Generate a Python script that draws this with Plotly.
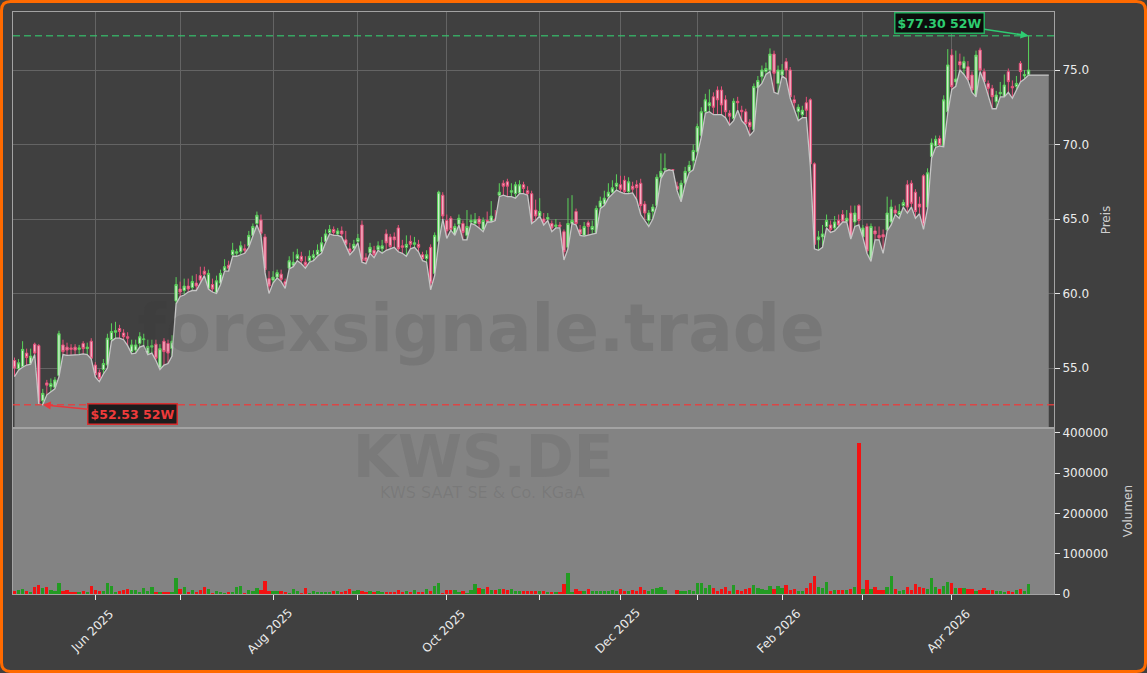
import pandas as pd
import plotly.graph_objects as go
from plotly.subplots import make_subplots

# ---------------- data ----------------
holidays = ["2025-12-24", "2025-12-25", "2025-12-26", "2025-12-31",
            "2026-01-01", "2026-04-03", "2026-04-06"]
_days = pd.bdate_range("2025-05-05", "2026-04-30")
_days = _days[~_days.isin(pd.to_datetime(holidays))]
dates = [d.strftime("%Y-%m-%d") for d in _days]
pad_dates = [d.strftime("%Y-%m-%d") for d in pd.bdate_range("2026-05-04", periods=5)]

opens = [
    55.5, 54.95, 55.1, 56.0, 55.3, 56.6, 56.5, 52.8, 54.0, 53.75,
    53.7, 54.5, 56.55, 56.4, 56.35, 56.4, 56.25, 56.65, 56.3, 56.8,
    55.2, 54.7, 54.9, 55.2, 56.9, 57.4, 57.65, 57.35, 57.1, 56.1,
    56.2, 56.65, 56.9, 55.98, 56.4, 56.6, 55.0, 56.8, 56.65, 56.3,
    59.5, 60.3, 60.2, 60.5, 60.4, 60.7, 61.2, 61.5, 60.35, 60.6,
    60.05, 60.7, 61.55, 61.9, 62.6, 62.7, 62.8, 63.0, 63.2, 63.9,
    64.7, 64.93, 63.8, 61.0, 60.9, 61.1, 61.3, 60.8, 61.7, 61.9,
    62.35, 62.5, 62.1, 62.2, 62.4, 62.6, 62.8, 63.5, 64.1, 64.3,
    64.0, 64.2, 63.6, 63.0, 63.0, 63.5, 64.6, 62.4, 62.75, 62.9,
    62.95, 63.0, 64.0, 63.8, 63.8, 64.4, 63.2, 63.1, 63.5, 63.3,
    63.3, 62.6, 62.35, 63.1, 61.35, 63.5, 66.6, 64.9, 65.05, 63.95,
    64.65, 64.7, 63.9, 64.8, 64.7, 65.0, 64.3, 64.9, 64.85, 65.0,
    66.6, 67.4, 67.5, 66.8, 66.7, 66.75, 67.3, 66.9, 66.7, 65.6,
    65.2, 65.0, 65.0, 64.7, 64.5, 64.6, 64.15, 63.1, 64.7, 65.5,
    64.3, 63.9, 64.75, 64.3, 64.1, 65.8, 66.0, 66.5, 66.8, 67.2,
    67.3, 67.6, 66.85, 67.2, 67.3, 67.4, 66.0, 64.9, 65.5, 65.9,
    67.8, 68.3, 68.3, 68.3, 67.2, 66.2, 67.4, 68.2, 68.9, 69.5,
    70.6, 72.2, 72.6, 73.2, 73.65, 73.65, 73.0, 72.1, 71.75, 72.9,
    72.3, 72.2, 71.5, 71.0, 73.8, 74.55, 74.9, 75.0, 76.07, 74.1,
    74.66, 75.56, 75.0, 73.0, 72.2, 72.0, 72.8, 73.0, 68.7, 63.6,
    63.8, 64.5, 64.6, 64.4, 64.9, 65.3, 64.85, 65.4, 64.8, 65.9,
    63.8, 64.5, 62.3, 64.2, 63.9, 63.95, 64.26, 64.8, 65.6, 65.3,
    65.9, 67.3, 67.4, 66.8, 66.0, 67.9, 65.8, 69.2, 69.9, 70.4,
    69.9, 72.2, 76.0, 74.2, 75.56, 75.11, 75.22, 74.66, 73.21, 76.34,
    74.89, 74.1, 73.77, 72.87, 73.4, 73.21, 74.89, 73.9, 73.9, 75.45,
    74.6, 74.7,
]

highs = [
    55.7, 55.6, 56.8, 56.3, 56.3, 56.7, 56.6, 53.6, 54.2, 54.3,
    54.4, 57.5, 56.9, 56.7, 56.6, 56.6, 56.55, 56.8, 56.7, 57.0,
    55.4, 54.9, 55.6, 57.3, 58.0, 58.1, 57.9, 57.6, 57.4, 56.9,
    56.9, 57.4, 57.3, 56.9, 56.9, 56.9, 56.6, 57.0, 56.9, 57.2,
    61.1, 60.8, 61.0, 61.0, 61.2, 61.3, 61.8, 61.8, 61.6, 61.0,
    61.2, 61.6, 62.3, 62.2, 63.4, 63.0, 63.5, 63.3, 64.2, 64.7,
    65.5, 65.3, 64.0, 61.5, 61.5, 61.6, 61.6, 61.0, 62.5, 62.8,
    63.0, 62.8, 62.5, 62.9, 62.9, 63.3, 63.8, 64.3, 64.6, 64.5,
    64.4, 64.5, 64.2, 63.4, 63.6, 64.0, 64.9, 62.7, 63.4, 63.2,
    63.5, 63.6, 64.3, 64.0, 64.1, 64.6, 63.6, 63.9, 63.9, 63.8,
    63.6, 62.8, 62.9, 63.3, 64.1, 66.9, 66.8, 65.3, 65.2, 64.7,
    65.3, 64.9, 65.6, 65.3, 65.4, 65.2, 65.1, 65.5, 66.2, 65.6,
    67.4, 67.6, 67.7, 67.4, 67.5, 67.6, 67.5, 67.2, 66.9, 66.3,
    66.4, 65.4, 65.4, 64.9, 65.0, 64.8, 64.3, 66.4, 66.6, 65.7,
    64.6, 64.8, 64.9, 64.9, 65.9, 66.5, 66.9, 67.4, 67.6, 68.0,
    67.9, 67.9, 67.8, 67.5, 67.6, 67.7, 66.2, 65.6, 66.0, 68.0,
    69.4, 69.4, 68.35, 68.35, 67.5, 67.6, 68.5, 68.9, 70.0, 71.4,
    72.5, 73.4, 73.7, 73.5, 73.9, 73.9, 73.3, 72.3, 73.1, 73.2,
    72.6, 72.4, 71.7, 74.1, 74.6, 75.3, 75.5, 76.45, 76.3, 75.3,
    75.4, 75.8, 75.2, 73.3, 72.7, 72.6, 73.2, 73.1, 68.8, 64.2,
    64.6, 65.3, 64.9, 65.2, 65.3, 65.6, 65.6, 65.9, 65.9, 66.0,
    64.6, 64.7, 64.7, 64.5, 64.5, 64.3, 66.5, 66.3, 65.9, 66.0,
    66.3, 67.6, 67.6, 67.0, 66.5, 68.0, 68.4, 70.4, 70.6, 70.6,
    73.3, 76.4, 76.4, 76.3, 76.1, 75.9, 75.6, 74.9, 76.3, 76.5,
    75.1, 74.3, 74.0, 73.6, 74.2, 74.7, 75.1, 74.3, 74.6, 75.6,
    75.0, 77.3,
]

lows = [
    54.42, 54.85, 55.05, 55.2, 55.25, 55.9, 52.6, 52.53, 53.2, 53.4,
    53.6, 54.4, 55.9, 55.85, 55.85, 55.85, 55.9, 55.95, 55.9, 55.6,
    54.4, 54.08, 54.6, 55.0, 56.8, 57.0, 57.0, 56.9, 56.5, 55.95,
    56.0, 56.4, 56.5, 55.9, 56.0, 55.5, 54.9, 55.2, 55.3, 55.8,
    59.3, 59.8, 59.9, 60.1, 60.2, 60.2, 60.7, 61.2, 60.3, 60.1,
    60.0, 60.6, 61.5, 61.5, 62.5, 62.5, 62.6, 62.7, 63.1, 63.8,
    64.6, 63.9, 61.4, 60.0, 60.7, 61.05, 60.8, 60.35, 61.65, 61.8,
    62.2, 62.0, 61.7, 62.1, 62.2, 62.5, 62.7, 63.4, 64.0, 63.9,
    63.9, 63.8, 63.15, 62.6, 62.9, 63.4, 62.1, 62.0, 62.7, 62.4,
    62.9, 62.7, 62.9, 63.0, 63.1, 62.8, 62.7, 62.5, 63.0, 63.1,
    62.8, 62.2, 62.1, 60.25, 61.2, 63.4, 65.0, 63.7, 64.25, 63.9,
    64.6, 63.6, 63.6, 64.7, 64.6, 64.4, 64.15, 64.8, 64.8, 64.9,
    66.5, 66.6, 66.5, 66.5, 66.4, 66.7, 66.7, 66.6, 64.7, 64.9,
    65.2, 64.6, 64.9, 64.15, 64.4, 64.4, 62.25, 63.0, 64.7, 64.6,
    63.9, 63.85, 63.9, 64.0, 64.05, 65.7, 65.9, 66.4, 66.7, 66.95,
    66.8, 66.7, 66.7, 66.75, 66.3, 65.3, 64.9, 64.5, 65.0, 65.9,
    67.7, 68.2, 68.3, 68.25, 66.9, 66.15, 67.3, 68.1, 68.3, 69.3,
    70.5, 72.1, 72.2, 72.0, 72.0, 72.0, 71.8, 71.3, 71.6, 72.3,
    71.6, 71.3, 70.6, 70.9, 73.8, 74.1, 74.7, 74.9, 73.5, 73.4,
    74.6, 74.4, 73.1, 72.3, 71.6, 71.8, 71.8, 68.5, 63.0, 62.9,
    63.1, 64.4, 64.1, 64.2, 64.5, 64.8, 64.8, 63.65, 64.5, 64.6,
    63.75, 62.7, 62.15, 63.6, 63.6, 62.7, 64.2, 64.6, 65.3, 65.05,
    65.8, 65.4, 65.8, 65.05, 65.35, 64.3, 65.7, 69.1, 69.8, 69.9,
    69.85, 72.1, 73.7, 73.9, 75.0, 74.7, 74.3, 73.5, 73.2, 74.9,
    74.2, 73.3, 72.4, 72.4, 73.2, 73.2, 73.5, 73.1, 73.6, 74.2,
    74.4, 74.66,
]

closes = [
    55.0, 55.35, 56.25, 55.7, 55.8, 56.0, 52.7, 53.3, 53.85, 53.95,
    54.2, 57.3, 56.1, 56.2, 56.25, 56.2, 56.35, 56.3, 56.4, 55.65,
    54.55, 54.3, 55.3, 57.0, 57.45, 57.5, 57.45, 57.1, 57.0, 56.55,
    56.55, 57.1, 56.95, 56.45, 56.5, 55.65, 56.3, 56.1, 56.0, 56.8,
    60.6, 60.1, 60.5, 60.3, 60.8, 60.5, 60.9, 61.3, 61.35, 60.3,
    60.85, 61.35, 61.8, 61.7, 62.9, 62.8, 63.2, 62.9, 63.9, 64.5,
    65.25, 64.04, 61.6, 60.5, 61.1, 61.4, 60.95, 60.55, 62.2, 62.1,
    62.6, 62.2, 61.9, 62.5, 62.6, 62.9, 63.4, 64.0, 64.3, 64.1,
    64.2, 64.0, 63.3, 62.8, 63.3, 63.7, 62.2, 62.2, 63.1, 62.6,
    63.2, 63.2, 63.4, 63.15, 63.6, 63.0, 63.1, 63.3, 63.3, 63.4,
    63.1, 62.35, 62.6, 60.7, 63.9, 66.8, 65.2, 64.2, 64.3, 64.5,
    65.05, 64.1, 64.5, 64.9, 64.95, 64.7, 64.9, 64.85, 65.2, 64.95,
    66.8, 67.2, 67.2, 66.9, 67.3, 67.3, 67.05, 66.7, 64.8, 65.2,
    65.5, 64.8, 65.1, 64.4, 64.6, 64.5, 62.8, 64.7, 64.9, 64.7,
    64.0, 64.5, 64.5, 64.5, 65.7, 66.2, 66.4, 66.8, 67.1, 67.4,
    67.0, 66.85, 67.5, 67.0, 67.1, 65.9, 65.4, 65.4, 65.8, 67.8,
    68.2, 68.4, 68.3, 68.3, 67.0, 67.4, 68.2, 68.6, 69.6, 71.2,
    72.2, 73.0, 72.8, 72.5, 73.0, 72.65, 72.2, 71.9, 72.9, 72.8,
    72.2, 71.4, 71.2, 73.9, 74.3, 75.0, 75.1, 76.07, 74.78, 75.0,
    75.0, 75.0, 73.2, 72.8, 72.5, 72.3, 72.3, 68.7, 63.3, 63.8,
    64.0, 64.9, 64.3, 64.8, 64.6, 64.85, 65.05, 63.7, 65.4, 64.9,
    64.4, 62.85, 64.5, 64.0, 63.75, 63.8, 65.4, 65.8, 65.4, 65.5,
    66.1, 65.8, 66.05, 65.5, 65.8, 64.6, 68.1, 70.1, 70.35, 70.0,
    73.0, 75.34, 73.88, 74.4, 75.34, 75.56, 74.33, 73.66, 76.0, 75.0,
    74.22, 73.77, 73.21, 73.32, 73.5, 73.99, 74.22, 73.8, 74.1, 74.89,
    74.7, 75.0,
]

volumes = [
    8000, 10000, 11500, 7000, 6000, 18000, 22000, 16000, 17000, 10000,
    8000, 27000, 8000, 10000, 6000, 5000, 6000, 8000, 5000, 20000,
    10000, 8000, 8000, 28000, 21000, 3000, 8000, 11000, 12000, 10000,
    10000, 4000, 15000, 7000, 16500, 5000, 5000, 5000, 5000, 5000,
    40000, 12000, 17000, 5000, 9000, 6000, 9000, 17000, 12000, 2000,
    7000, 6000, 2000, 6000, 6000, 18000, 20000, 2000, 10000, 8000,
    15000, 10000, 32000, 8000, 8000, 8000, 8000, 6000, 2000, 12000,
    8000, 2000, 15000, 2000, 7000, 5000, 5000, 5000, 6000, 7000,
    7000, 5000, 7000, 12000, 8000, 9000, 8000, 6000, 7000, 5000,
    8000, 5000, 5000, 5000, 5000, 10000, 5000, 8000, 4000, 10000,
    3000, 6000, 12000, 8000, 20000, 28000, 2000, 10000, 10000, 10000,
    3000, 8000, 2000, 10000, 26000, 14000, 12000, 17000, 10000, 10000,
    12000, 12000, 10000, 12000, 8000, 8000, 7000, 8000, 8000, 8000,
    8000, 7000, 3000, 5000, 3000, 3000, 25000, 52000, 3000, 12000,
    8000, 7000, 11600, 8000, 8000, 8000, 7000, 8000, 10000, 8000,
    11600, 8000, 8000, 10000, 7000, 18000, 10000, 8000, 12000, 14000,
    18000, 10000, 0, 0, 10000, 8000, 8000, 9000, 8000, 27000,
    27000, 16000, 22000, 14000, 7000, 12000, 17000, 8000, 22000, 11000,
    8000, 12000, 14000, 22000, 14000, 12000, 10000, 20000, 13000, 21000,
    16000, 22000, 10000, 12000, 7000, 7000, 14000, 26500, 45000, 18000,
    14000, 29000, 8000, 10000, 10000, 10000, 10000, 12000, 16500, 376000,
    12000, 35000, 12000, 18000, 10000, 10000, 18000, 45000, 12000, 8000,
    10000, 16500, 10000, 24000, 16500, 14000, 12000, 41000, 18000, 13000,
    21000, 31000, 26500, 14000, 14000, 14000, 13000, 12000, 7000, 10000,
    16000, 10000, 10000, 7000, 7000, 6000, 7000, 6000, 10000, 12000,
    7000, 25000,
]

price_ticks = [55, 60, 65, 70, 75]
volume_ticks = [0, 100000, 200000, 300000, 400000]
watermark = "forexsignale.trade"
symbol = "KWS.DE"
company = "KWS SAAT SE & Co. KGaA"

n = min(len(dates), len(opens), len(highs), len(lows), len(closes), len(volumes))
dates, opens, highs, lows, closes, volumes = (dates[:n], opens[:n], highs[:n],
                                              lows[:n], closes[:n], volumes[:n])

# ---------------- geometry / style ----------------
W, H = 1147, 673
ML, MR, MT, MB = 13, 93, 12, 79
PW, PH = W - ML - MR, H - MT - MB
split = (594 - 428) / PH          # volume panel share of plot height

BG = "#404040"
AREA = "#838383"
GRID = "#646464"
FRAME = "#a3a3a3"
TXT = "#ececec"
FONT = "DejaVu Sans"

def px_x(px):
    return (px - ML) / PW

def px_y(py):
    return (H - MB - py) / PH

fig = make_subplots(rows=2, cols=1, shared_xaxes=True, vertical_spacing=0)

fig.add_trace(go.Scatter(
    x=dates + pad_dates, y=lows + [lows[-1]] * len(pad_dates),
    mode="lines", line=dict(color="#c6c6c6", width=1.3),
    fill="tozeroy", fillcolor=AREA, hoverinfo="skip"), row=1, col=1)

fig.add_trace(go.Candlestick(
    x=dates, open=opens, high=highs, low=lows, close=closes,
    increasing=dict(line=dict(color="#5ad25a", width=1), fillcolor="#d3efd3"),
    decreasing=dict(line=dict(color="#e6507a", width=1), fillcolor="#f4b6c8"),
    whiskerwidth=0), row=1, col=1)

vol_colors = ["#239b23" if c >= o else "#f31212" for o, c in zip(opens, closes)]
fig.add_trace(go.Bar(x=dates, y=volumes, marker=dict(color=vol_colors, line=dict(width=0)),
                     width=0.82), row=2, col=1)

all_cats = dates + pad_dates
xr = [-0.371, 257.3]

# month ticks: first trading day of each month
month_ticks, month_labels = [], []
for k in range(1, len(_days)):
    if _days[k].month != _days[k - 1].month:
        month_ticks.append(dates[k])
        month_labels.append(_days[k].strftime("%b %Y"))

fig.update_layout(
    width=W, height=H,
    margin=dict(l=ML, r=MR, t=MT, b=MB, pad=0),
    paper_bgcolor=BG, plot_bgcolor="rgba(0,0,0,0)",
    showlegend=False, font=dict(family=FONT, color=TXT, size=12),
    bargap=0, boxgap=0.18,
)

common_x = dict(type="category", categoryorder="array", categoryarray=all_cats,
                range=xr, tickvals=month_ticks, showticklabels=False,
                showline=True, linecolor=FRAME, linewidth=1, mirror=True,
                zeroline=False)
fig.update_xaxes(**common_x)
fig.update_layout(
    xaxis=dict(domain=[0, 1], showgrid=True, gridcolor=GRID, gridwidth=1, ticks="",
               rangeslider=dict(visible=False)),
    xaxis2=dict(domain=[0, 1], showgrid=False, ticks="outside", ticklen=5,
                tickcolor="#e6e6e6", tickwidth=1),
    yaxis=dict(domain=[split, 1], side="right", range=[50.973, 78.893],
               tickvals=price_ticks, tickformat=".1f", ticks="outside", ticklen=5,
               tickcolor="#e6e6e6", showgrid=True, gridcolor=GRID, gridwidth=1,
               zeroline=False, showline=True, linecolor=FRAME, mirror=True,
               tickfont=dict(size=12, color=TXT), automargin=False,
               title=dict(text="Preis", font=dict(size=12, color="#cfcfcf"), standoff=13)),
    yaxis2=dict(domain=[0, split], side="right", range=[0, 412400],
                tickvals=volume_ticks, tickformat="d", ticks="outside", ticklen=5,
                tickcolor="#e6e6e6", showgrid=False, zeroline=False,
                showline=True, linecolor=FRAME, mirror=True,
                tickfont=dict(size=12, color=TXT), automargin=False,
                title=dict(text="Volumen", font=dict(size=12, color="#cfcfcf"), standoff=16)),
)

# ---------------- shapes ----------------
i_hi = max(range(n), key=lambda k: highs[k])
i_lo = min(range(n), key=lambda k: lows[k])
hi_val, lo_val = highs[i_hi], lows[i_lo]

shapes = [
    dict(type="rect", xref="x2 domain", yref="y2 domain", x0=0, x1=1, y0=0, y1=1,
         fillcolor=AREA, line=dict(width=0), layer="below"),
    dict(type="line", xref="x domain", yref="y", x0=0, x1=1, y0=hi_val, y1=hi_val,
         line=dict(color="rgba(52,200,110,0.75)", width=1.5, dash="7px,4px")),
    dict(type="line", xref="x domain", yref="y", x0=0, x1=1, y0=lo_val, y1=lo_val,
         line=dict(color="rgba(235,60,60,0.85)", width=1.5, dash="7px,4px")),
]

# rounded orange frame around the whole image
ins, r = 1.5, 9
pts = [("M", r + ins, ins), ("L", W - r - ins, ins), ("Q", W - ins, ins, W - ins, ins + r),
       ("L", W - ins, H - r - ins), ("Q", W - ins, H - ins, W - r - ins, H - ins),
       ("L", r + ins, H - ins), ("Q", ins, H - ins, ins, H - r - ins),
       ("L", ins, r + ins), ("Q", ins, ins, r + ins, ins)]
path = ""
for p in pts:
    cmd, coords = p[0], p[1:]
    xy = []
    for j in range(0, len(coords), 2):
        xy.append(f"{px_x(coords[j]):.5f},{px_y(coords[j + 1]):.5f}")
    path += cmd + " ".join(xy) + " "
path += "Z"
shapes.append(dict(type="path", xref="paper", yref="paper", path=path,
                   line=dict(color="#ff6a00", width=3), layer="above"))
fig.update_layout(shapes=shapes)

# ---------------- annotations ----------------
ann = []
wm_col = "rgba(55,55,55,0.15)"
ann.append(dict(text=watermark, xref="paper", yref="paper", x=px_x(481), y=px_y(328),
                showarrow=False, font=dict(family=FONT, size=66, color=wm_col, weight="bold"),
                xanchor="center", yanchor="middle"))
ann.append(dict(text=symbol, xref="paper", yref="paper", x=px_x(483), y=px_y(457),
                showarrow=False, font=dict(family=FONT, size=58, color="rgba(55,55,55,0.12)",
                                           weight="bold"),
                xanchor="center", yanchor="middle"))
ann.append(dict(text=company, xref="paper", yref="paper", x=px_x(482), y=px_y(493),
                showarrow=False, font=dict(family=FONT, size=16, color="rgba(55,55,55,0.12)"),
                xanchor="center", yanchor="middle"))

for k, (tv, tl) in enumerate(zip(month_ticks, month_labels)):
    if k % 2 == 0:
        ann.append(dict(text=tl, x=tv, xref="x2", y=px_y(631), yref="paper",
                        showarrow=False, textangle=-45, xshift=-3,
                        font=dict(family=FONT, size=12, color=TXT),
                        xanchor="center", yanchor="middle"))

ann.append(dict(text=f"${hi_val:.2f} 52W", x=dates[i_hi], y=hi_val, xref="x", yref="y",
                ax=-89, ay=-13, showarrow=True, arrowhead=2, arrowsize=1, arrowwidth=1.6,
                arrowcolor="#2ecc71", standoff=0,
                font=dict(family=FONT, size=12.5, color="#2ecc71", weight="bold"),
                bgcolor="#0c0c0c", bordercolor="#27ae60", borderwidth=1.5, borderpad=2))
ann.append(dict(text=f"${lo_val:.2f} 52W", x=dates[i_lo], y=lo_val, xref="x", yref="y",
                ax=90, ay=9, showarrow=True, arrowhead=2, arrowsize=1, arrowwidth=1.6,
                arrowcolor="#e8383d", standoff=0,
                font=dict(family=FONT, size=12.5, color="#ee3b3b", weight="bold"),
                bgcolor="#1c1c1c", bordercolor="#d63031", borderwidth=1.5, borderpad=2))
fig.update_layout(annotations=ann)

fig.write_html("out.html", config={"displayModeBar": False},
               post_script="document.body.style.margin='0';document.body.style.overflow='hidden';")
